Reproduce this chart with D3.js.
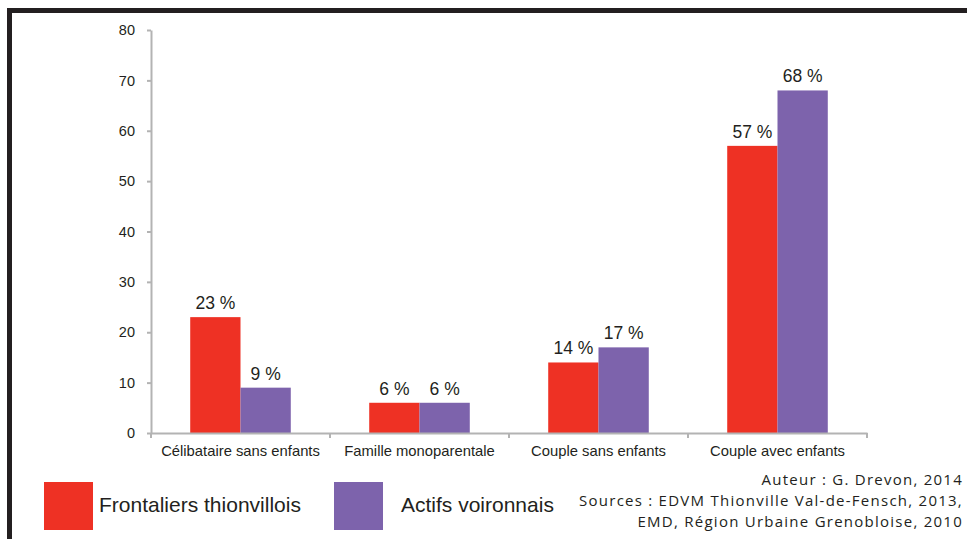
<!DOCTYPE html>
<html><head><meta charset="utf-8">
<script src="https://cdn.jsdelivr.net/npm/d3@7"></script>
<style>body{margin:0;background:#fff}svg{display:block}</style>
</head><body>
<svg id="c" width="967" height="539"></svg>
<script>
const categories = ["Célibataire sans enfants","Famille monoparentale","Couple sans enfants","Couple avec enfants"];
const seriesNames = ["Frontaliers thionvillois","Actifs voironnais"];
const frontaliers = [23, 6, 14, 57];
const voironnais = [9, 6, 17, 68];
const yTicks = [0,10,20,30,40,50,60,70,80];
const colors = ["#EE3124","#7D63AC"];
const credits = ["Auteur : G. Drevon, 2014","Sources : EDVM Thionville Val-de-Fensch, 2013,","EMD, Région Urbaine Grenobloise, 2010"];

const svg = d3.select("#c");
// frame
svg.append("rect").attr("x",7).attr("y",8).attr("width",970).attr("height",540).attr("fill","none").attr("stroke","#231f20").attr("stroke-width",5).attr("transform","translate(2.5,2.5)");

const x0 = d3.scaleBand().domain(categories).range([151,867]).paddingInner(0).paddingOuter(0);
const x1 = d3.scaleBand().domain(seriesNames).range([0,x0.bandwidth()]).paddingInner(0).paddingOuter(0.78);
const y = d3.scaleLinear().domain([0,80]).range([433,30]);

const axisColor = "#b3b3b3";
const font = "Liberation Sans, Arial";
// y axis
const ya = svg.append("g").attr("transform","translate(151,0)")
  .call(d3.axisLeft(y).tickValues(yTicks).tickSize(4).tickSizeOuter(0).tickPadding(12));
ya.select(".domain").attr("stroke",axisColor).attr("stroke-width",2);
ya.selectAll(".tick line").attr("stroke",axisColor).attr("stroke-width",2);
ya.selectAll(".tick text").attr("font-family",font).attr("font-size",14.5).attr("fill","#231f20");

// bars
const data = categories.map((c,i)=>({c, vals:[frontaliers[i], voironnais[i]]}));
const g = svg.append("g");
data.forEach(d=>{
  d.vals.forEach((v,j)=>{
    const xx = x0(d.c)+x1(seriesNames[j]);
    g.append("rect").attr("x",xx).attr("y",y(v)).attr("width",x1.bandwidth()).attr("height",y(0)-y(v)).attr("fill",colors[j]);
    g.append("text").attr("x",xx+x1.bandwidth()/2).attr("y",y(v)-8).attr("text-anchor","middle")
      .attr("font-family",font).attr("font-size",17.5).attr("fill","#231f20").text(v+" %");
  });
});

// x axis
const xa = svg.append("g").attr("transform","translate(0,433)")
  .call(d3.axisBottom(x0).tickSize(0).tickSizeOuter(0).tickPadding(12));
xa.select(".domain").attr("stroke",axisColor).attr("stroke-width",2);
xa.selectAll(".tick text").attr("font-family",font).attr("font-size",14.8).attr("fill","#231f20");
const bounds = categories.map(c=>x0(c)).concat([x0.range()[1]]);
svg.append("g").selectAll("line").data(bounds).join("line")
  .attr("x1",d=>d).attr("x2",d=>d).attr("y1",433).attr("y2",438).attr("stroke",axisColor).attr("stroke-width",2);

// legend
const legX = [44, 334];
const legTextX = [99, 401];
seriesNames.forEach((s,j)=>{
  svg.append("rect").attr("x",legX[j]).attr("y",482).attr("width",49).attr("height",48).attr("fill",colors[j]);
  svg.append("text").attr("x",legTextX[j]).attr("y",512).attr("font-family",font).attr("font-size",21).attr("fill","#231f20").text(s);
});

// credits
credits.forEach((t,i)=>{
  svg.append("text").attr("x",963).attr("y",485+i*21).attr("text-anchor","end")
    .attr("font-family","Open Sans, DejaVu Sans").attr("font-size",15).attr("letter-spacing",1.25).attr("fill","#231f20").text(t);
});
</script>
</body></html>
